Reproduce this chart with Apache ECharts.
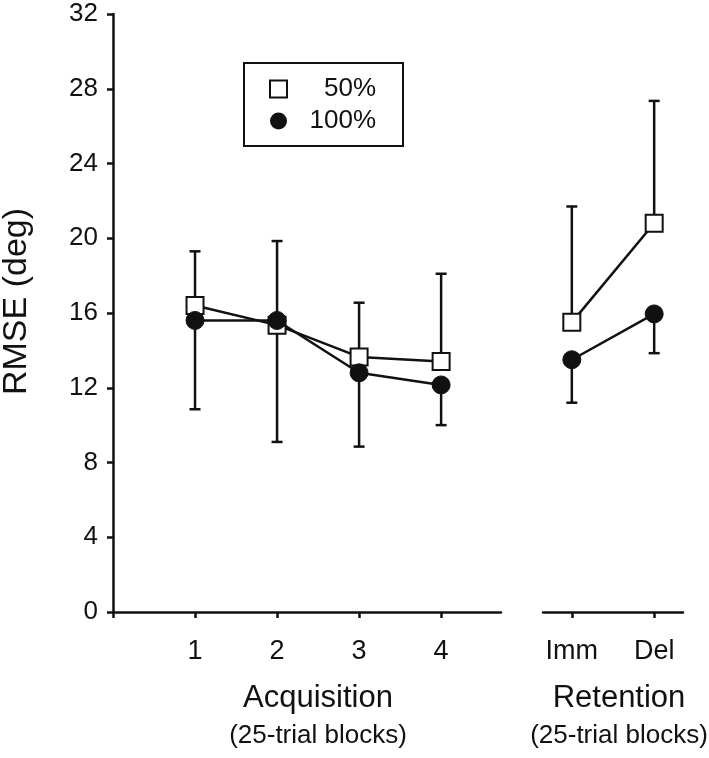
<!DOCTYPE html>
<html>
<head>
<meta charset="utf-8">
<script src="https://cdn.jsdelivr.net/npm/echarts@6/dist/echarts.min.js"></script>
<style>html,body{margin:0;padding:0;background:#fff}#c{width:709px;height:758px}</style>
</head>
<body>
<div id="c"></div>
<script>
// ---- data ----
const acqBlocks = [1, 2, 3, 4];
const retBlocks = [1, 2];
const retLabels = ['Imm', 'Del'];
const acq50 = [16.4, 15.35, 13.65, 13.4];
const acq100 = [15.6, 15.6, 12.8, 12.15];
const acq50Upper = [19.3, 19.85, 16.55, 18.1];
const acq100Lower = [10.85, 9.1, 8.85, 10.0];
const ret50 = [15.5, 20.8];
const ret100 = [13.5, 15.95];
const ret50Upper = [21.7, 27.35];
const ret100Lower = [11.2, 13.85];
const yMin = 0, yMax = 32, yStep = 4;

const INK = '#111';
const FONT = '"Liberation Sans", Arial, sans-serif';

function pairs(xs, ys) { return xs.map((x, i) => [x, ys[i]]); }
function errData(xs, from, to) { return xs.map((x, i) => [x, from[i], to[i]]); }

function errRender(params, api) {
  const x = api.value(0);
  const p0 = api.coord([x, api.value(1)]);
  const p1 = api.coord([x, api.value(2)]);
  const cap = 5.5;
  const st = { stroke: INK, lineWidth: 2.5 };
  return {
    type: 'group',
    children: [
      { type: 'line', shape: { x1: p0[0], y1: p0[1], x2: p1[0], y2: p1[1] }, style: st },
      { type: 'line', shape: { x1: p1[0] - cap, y1: p1[1], x2: p1[0] + cap, y2: p1[1] }, style: st }
    ]
  };
}

const sq = { symbol: 'rect', symbolSize: 17, itemStyle: { color: '#fff', borderColor: INK, borderWidth: 2 } };
const ci = { symbol: 'circle', symbolSize: 18, itemStyle: { color: INK, borderColor: INK, borderWidth: 1 } };
const lineSt = { color: INK, width: 2.5 };

const nameRich = {
  a: { fontSize: 31, lineHeight: 38, fontFamily: FONT, color: INK },
  b: { fontSize: 26, lineHeight: 38, fontFamily: FONT, color: INK }
};

const chart = echarts.init(document.getElementById('c'), null, { renderer: 'canvas' });
chart.setOption({
  animation: false,
  backgroundColor: '#fff',
  textStyle: { fontFamily: FONT, color: INK },
  grid: [
    { left: 113, top: 14, width: 388, height: 598, containLabel: false, outerBoundsMode: 'none' },
    { left: 543, top: 14, width: 140, height: 598, containLabel: false, outerBoundsMode: 'none' }
  ],
  legend: {
    left: 244, top: 63,
    orient: 'vertical',
    padding: [13, 27, 12, 25],
    borderColor: INK, borderWidth: 2, borderRadius: 0,
    itemWidth: 17, itemHeight: 17, itemGap: 6,
    selectedMode: false,
    formatter: name => '{r|' + name + '}',
    textStyle: {
      fontFamily: FONT, color: INK,
      rich: { r: { width: 84, align: 'right', fontSize: 26, lineHeight: 26, fontFamily: FONT, color: INK } }
    },
    data: [
      { name: '50%', icon: 'rect', itemStyle: { color: '#fff', borderColor: INK, borderWidth: 2 } },
      { name: '100%', icon: 'circle', itemStyle: { color: INK, borderColor: INK, borderWidth: 0 } }
    ]
  },
  xAxis: [
    {
      type: 'value', gridIndex: 0, min: 0, max: 4.73,
      name: '{a|Acquisition}\n{b|(25-trial blocks)}',
      nameLocation: 'middle', nameGap: 67,
      nameTextStyle: { padding: [0, 0, 0, 22], rich: nameRich },
      splitLine: { show: false },
      axisLine: { show: true, onZero: false, lineStyle: { color: INK, width: 2.5 } },
      axisTick: { show: true, customValues: [0].concat(acqBlocks), length: 6, lineStyle: { color: INK, width: 2.5 } },
      axisLabel: { customValues: acqBlocks, fontSize: 27, margin: 26, color: INK, fontFamily: FONT }
    },
    {
      type: 'value', gridIndex: 1, min: 0.65, max: 2.35,
      name: '{a|Retention}\n{b|(25-trial blocks)}',
      nameLocation: 'middle', nameGap: 67,
      nameTextStyle: { padding: [0, 0, 0, 12], rich: nameRich },
      splitLine: { show: false },
      axisLine: { show: true, onZero: false, lineStyle: { color: INK, width: 2.5 } },
      axisTick: { show: true, customValues: retBlocks, length: 6, lineStyle: { color: INK, width: 2.5 } },
      axisLabel: { customValues: retBlocks, formatter: v => retLabels[Math.round(v) - 1], fontSize: 27, margin: 26, color: INK, fontFamily: FONT }
    }
  ],
  yAxis: [
    {
      type: 'value', gridIndex: 0, min: yMin, max: yMax, interval: yStep,
      name: 'RMSE (deg)', nameLocation: 'middle', nameGap: 79,
      nameTextStyle: { fontSize: 34, fontFamily: FONT, color: INK, padding: [0, 0, 0, 23] },
      splitLine: { show: false },
      axisLine: { show: true, lineStyle: { color: INK, width: 2.5 } },
      axisTick: { show: true, length: 6, lineStyle: { color: INK, width: 2.5 } },
      axisLabel: { fontSize: 26, margin: 15, color: INK, fontFamily: FONT }
    },
    {
      type: 'value', gridIndex: 1, min: yMin, max: yMax, interval: yStep, show: false
    }
  ],
  series: [
    { type: 'custom', xAxisIndex: 0, yAxisIndex: 0, renderItem: errRender, data: errData(acqBlocks, acq50, acq50Upper), z: 1, silent: true },
    { type: 'custom', xAxisIndex: 0, yAxisIndex: 0, renderItem: errRender, data: errData(acqBlocks, acq100, acq100Lower), z: 1, silent: true },
    { type: 'custom', xAxisIndex: 1, yAxisIndex: 1, renderItem: errRender, data: errData(retBlocks, ret50, ret50Upper), z: 1, silent: true },
    { type: 'custom', xAxisIndex: 1, yAxisIndex: 1, renderItem: errRender, data: errData(retBlocks, ret100, ret100Lower), z: 1, silent: true },
    Object.assign({ name: '50%', type: 'line', xAxisIndex: 0, yAxisIndex: 0, data: pairs(acqBlocks, acq50), lineStyle: lineSt, z: 3 }, sq),
    Object.assign({ name: '100%', type: 'line', xAxisIndex: 0, yAxisIndex: 0, data: pairs(acqBlocks, acq100), lineStyle: lineSt, z: 4 }, ci),
    Object.assign({ name: '50%', type: 'line', xAxisIndex: 1, yAxisIndex: 1, data: pairs(retBlocks, ret50), lineStyle: lineSt, z: 3 }, sq),
    Object.assign({ name: '100%', type: 'line', xAxisIndex: 1, yAxisIndex: 1, data: pairs(retBlocks, ret100), lineStyle: lineSt, z: 4 }, ci)
  ]
});
</script>
</body>
</html>
